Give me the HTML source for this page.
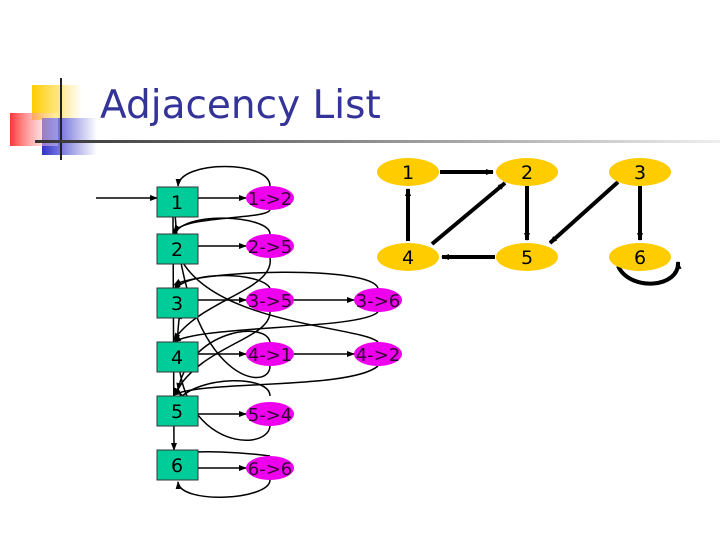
<!DOCTYPE html>
<html><head><style>
body{margin:0;background:#fff;}
svg{display:block;font-family:"DejaVu Sans","Liberation Sans",sans-serif;}
</style></head><body>
<svg width="720" height="540" viewBox="0 0 720 540">
<defs>
<linearGradient id="hl" x1="0" x2="1"><stop offset="0" stop-color="#333"/><stop offset="1" stop-color="#eee"/></linearGradient>
<linearGradient id="rg" x1="0" x2="1"><stop offset="0" stop-color="#ff3333"/><stop offset="1" stop-color="#fff" stop-opacity="0.3"/></linearGradient>
<linearGradient id="bg" x1="0" x2="1"><stop offset="0" stop-color="#3333cc"/><stop offset="1" stop-color="#fff"/></linearGradient>
<linearGradient id="yg" x1="0" x2="1"><stop offset="0" stop-color="#ffcc00"/><stop offset="1" stop-color="#fff"/></linearGradient>
<marker id="a" markerWidth="8" markerHeight="8" refX="7" refY="4" orient="auto" markerUnits="userSpaceOnUse"><path d="M0,1 L8,4 L0,7z" fill="#000"/></marker>
</defs>
<rect x="32" y="85" width="50" height="35" fill="url(#yg)"/>
<rect x="42" y="118" width="55" height="37" fill="url(#bg)"/>
<rect x="10" y="113" width="48" height="33" fill="url(#rg)"/>
<line x1="61" y1="78" x2="61" y2="160" stroke="#222" stroke-width="2"/>
<rect x="35" y="140" width="685" height="3" fill="url(#hl)"/>
<text x="100" y="118" font-size="39" fill="#333399">Adjacency List</text>

<g stroke="#000" stroke-width="4" fill="none" marker-end="url(#a)">
<line x1="440" y1="172" x2="493" y2="172"/>
<line x1="408" y1="241" x2="408" y2="189"/>
<line x1="432" y1="244" x2="505" y2="183"/>
<line x1="527" y1="186" x2="527" y2="240"/>
<line x1="495" y1="257" x2="442" y2="257"/>
<line x1="618" y1="182" x2="550" y2="243"/>
<line x1="640" y1="186" x2="640" y2="240"/>
<path d="M618,266 C630,292 680,288 678,262"/>
</g>
<g fill="#ffcc00">
<ellipse cx="408" cy="172" rx="31" ry="14"/><ellipse cx="527" cy="172" rx="31" ry="14"/><ellipse cx="640" cy="172" rx="31" ry="14"/>
<ellipse cx="408" cy="257" rx="31" ry="14"/><ellipse cx="527" cy="257" rx="31" ry="14"/><ellipse cx="640" cy="257" rx="31" ry="14"/>
</g>
<g font-size="19" text-anchor="middle" fill="#000">
<text x="408" y="179">1</text><text x="527" y="179">2</text><text x="640" y="179">3</text>
<text x="408" y="264">4</text><text x="527" y="264">5</text><text x="640" y="264">6</text>
</g>

<g stroke="#000" stroke-width="1.5" fill="none" marker-end="url(#a)">
<line x1="96" y1="198" x2="157" y2="198"/>
<line x1="198" y1="198" x2="246" y2="198"/>
<line x1="198" y1="246" x2="246" y2="246"/>
<line x1="198" y1="300" x2="246" y2="300"/>
<line x1="294" y1="300" x2="354" y2="300"/>
<line x1="198" y1="354" x2="246" y2="354"/>
<line x1="294" y1="354" x2="354" y2="354"/>
<line x1="198" y1="414" x2="246" y2="414"/>
<line x1="198" y1="468" x2="246" y2="468"/>
<path d="M270,186 C270,160 180,160 178,186"/>
<path d="M270,210 C265,220 185,215 174,232"/>
<path d="M270,234 C270,215 180,210 174,236"/>
<path d="M270,258 C275,290 200,300 174,340"/>
<path d="M378,288 C370,265 200,270 174,285"/>
<path d="M270,288 C260,272 190,270 174,290"/>
<path d="M270,312 C270,340 200,345 174,395"/>
<path d="M378,312 C360,330 200,325 174,342"/>
<path d="M270,342 C265,320 190,330 178,390"/>
<path d="M270,366 C270,395 180,380 174,194"/>
<path d="M378,342 C360,325 190,325 174,240"/>
<path d="M378,366 C350,390 200,380 174,395"/>
<path d="M270,396 C270,375 200,375 178,400"/>
<path d="M270,426 C268,455 160,450 180,312"/>
<path d="M270,456 C240,452 200,450 176,454"/>
<path d="M270,480 C270,500 180,505 178,482"/>
<line x1="173" y1="216" x2="174" y2="450"/>
</g>
<g fill="#00cc99" stroke="#333" stroke-width="1">
<rect x="157" y="187" width="41" height="30"/><rect x="157" y="234" width="41" height="30"/>
<rect x="157" y="288" width="41" height="30"/><rect x="157" y="342" width="41" height="30"/>
<rect x="157" y="396" width="41" height="30"/><rect x="157" y="450" width="41" height="30"/>
</g>
<g font-size="19" fill="#000" text-anchor="middle">
<text x="177" y="209">1</text><text x="177" y="256">2</text><text x="177" y="310">3</text>
<text x="177" y="364">4</text><text x="177" y="418">5</text><text x="177" y="472">6</text>
</g>
<g fill="#ee00ee">
<ellipse cx="270" cy="198" rx="24" ry="12"/><ellipse cx="270" cy="246" rx="24" ry="12"/>
<ellipse cx="270" cy="300" rx="24" ry="12"/><ellipse cx="378" cy="300" rx="24" ry="12"/>
<ellipse cx="270" cy="354" rx="24" ry="12"/><ellipse cx="378" cy="354" rx="24" ry="12"/>
<ellipse cx="270" cy="414" rx="24" ry="12"/><ellipse cx="270" cy="468" rx="24" ry="12"/>
</g>
<g font-size="18" fill="#330033" text-anchor="middle">
<text x="270" y="205">1-&gt;2</text><text x="270" y="253">2-&gt;5</text>
<text x="270" y="307">3-&gt;5</text><text x="378" y="307">3-&gt;6</text>
<text x="270" y="361">4-&gt;1</text><text x="378" y="361">4-&gt;2</text>
<text x="270" y="421">5-&gt;4</text><text x="270" y="475">6-&gt;6</text>
</g>
</svg>
</body></html>
